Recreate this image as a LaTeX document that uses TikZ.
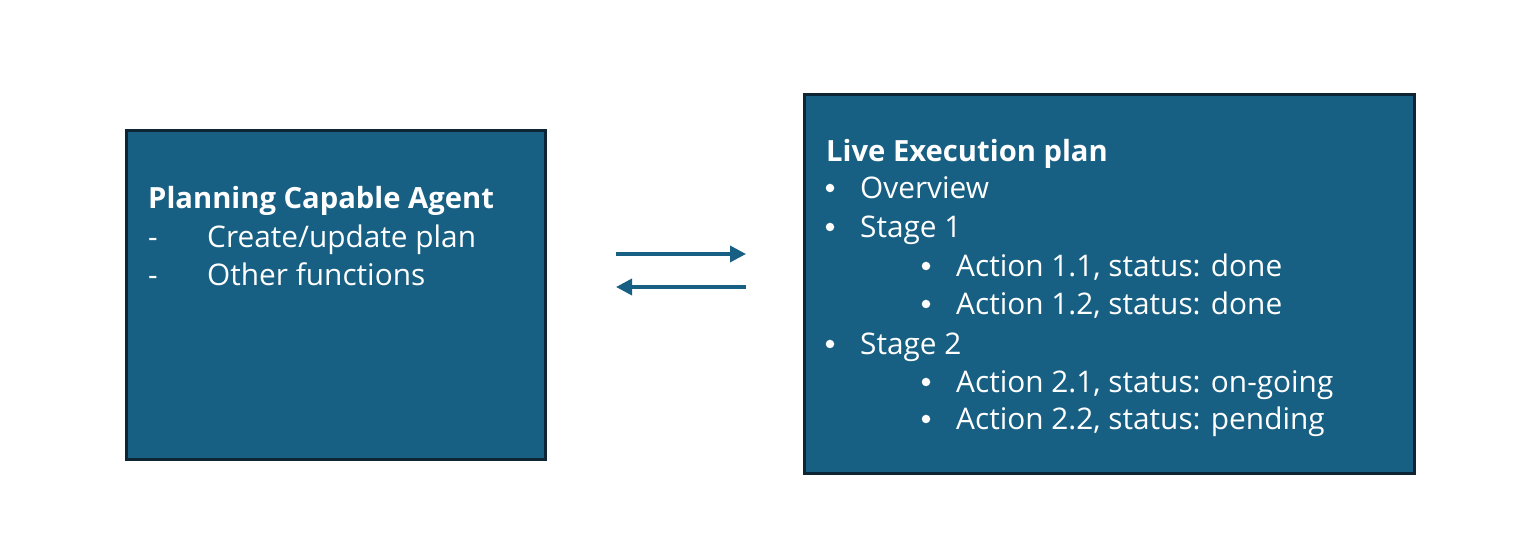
\documentclass[tikz,border=0pt]{standalone}
\usepackage{fontspec}
\setmainfont{Open Sans}
\usetikzlibrary{arrows.meta}
\definecolor{boxfill}{HTML}{186083}
\definecolor{boxline}{HTML}{0E2536}
\tikzset{
  panel/.style={draw=boxline, line width=3pt, fill=boxfill},
  txt/.style={anchor=base west, inner sep=0pt, text=white, font=\fontsize{29.8}{34}\selectfont},
  ttl/.style={txt, font=\fontsize{29.2}{34}\selectfont\bfseries},
  blt/.style={anchor=center, inner sep=0pt, circle, fill=white, minimum size=8.5pt},
  flow/.style={draw=boxfill, line width=3.5pt, -{Triangle[length=16pt,width=16pt]}}
}
\begin{document}
\begin{tikzpicture}[x=1pt,y=1pt]
\useasboundingbox (0,0) rectangle (1528,534);
% boxes
\draw[panel] (126,74) rectangle (545,403);
\draw[panel] (804,60) rectangle (1414,439);
% left text
\node[ttl] (lt) at (148,325) {Planning Capable Agent};
\node[txt] (l1d) at (148,286) {-};
\node[txt] (l1) at (207,286) {Create/update plan};
\node[txt] (l2d) at (148,248) {-};
\node[txt] (l2) at (207,248) {Other functions};
% right text
\node[ttl] (rt) at (826,372) {Live Execution plan};
\node[blt] (b1) at (830,346) {};
\node[txt] (r1) at (860,335) {Overview};
\node[blt] (b2) at (830,307) {};
\node[txt] (r2) at (860,296) {Stage 1};
\node[blt] (b3) at (926,268) {};
\node[txt] (r3) at (956,257) {Action 1.1, status: done};
\node[blt] (b4) at (926,230) {};
\node[txt] (r4) at (956,219) {Action 1.2, status: done};
\node[blt] (b5) at (830,190) {};
\node[txt] (r5) at (860,179) {Stage 2};
\node[blt] (b6) at (926,152) {};
\node[txt] (r6) at (956,141) {Action 2.1, status: on-going};
\node[blt] (b7) at (926,115) {};
\node[txt] (r7) at (956,104) {Action 2.2, status: pending};
% arrows
\coordinate (a1s) at (616,280);
\coordinate (a1e) at (746,280);
\coordinate (a2s) at (746,247);
\coordinate (a2e) at (616,247);
\draw[flow] (a1s) -- (a1e);
\draw[flow] (a2s) -- (a2e);
\end{tikzpicture}
\end{document}
